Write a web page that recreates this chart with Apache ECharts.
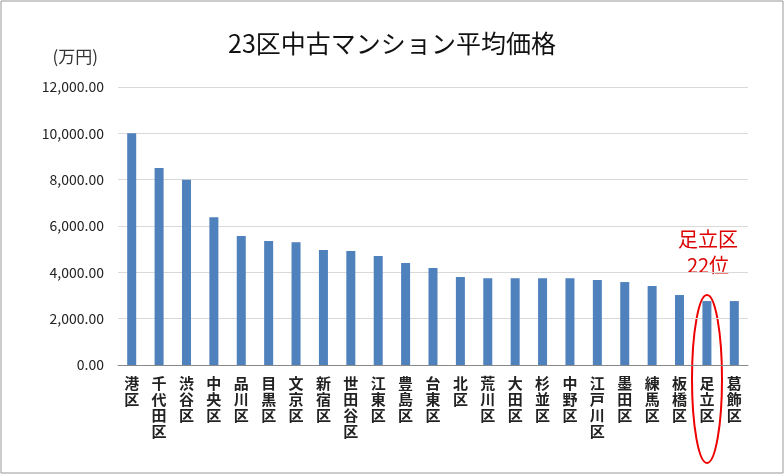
<!DOCTYPE html>
<html><head><meta charset="utf-8">
<script src="https://cdn.jsdelivr.net/npm/echarts@6/dist/echarts.min.js"></script>
<style>html,body{margin:0;padding:0;background:#fff}#c{width:784px;height:474px}</style>
</head><body><div id="c"></div>
<script>
const wards = ['港区','千代田区','渋谷区','中央区','品川区','目黒区','文京区','新宿区','世田谷区','江東区','豊島区','台東区','北区','荒川区','大田区','杉並区','中野区','江戸川区','墨田区','練馬区','板橋区','足立区','葛飾区'];
const prices = [10000,8500,8000,6380,5570,5350,5300,4960,4920,4700,4400,4190,3800,3750,3750,3750,3750,3670,3580,3410,3020,2760,2760];
const yTicks = [0,2000,4000,6000,8000,10000,12000];

const font = '"Noto Sans CJK JP", sans-serif';
const chart = echarts.init(document.getElementById('c'));
chart.setOption({
  animation: false,
  title: { text: '23区中古マンション平均価格', left: 'center', top: 26,
    textStyle: { fontFamily: font, fontSize: 25, fontWeight: 'normal', color: '#111' } },
  grid: { left: 118, right: 36, top: 87, bottom: 109 },
  xAxis: { type: 'category', data: wards,
    axisLine: { lineStyle: { color: '#888' } }, axisTick: { show: false },
    axisLabel: { interval: 0, fontFamily: font, fontSize: 15, fontWeight: 'bold', color: '#222', lineHeight: 16, margin: 10,
      formatter: v => v.split('').join('\n') } },
  yAxis: { type: 'value', min: 0, max: yTicks[yTicks.length - 1], interval: 2000,
    name: '(万円)', nameLocation: 'end', nameGap: 22,
    nameTextStyle: { fontFamily: font, fontSize: 17, color: '#333', align: 'right', padding: [0, 20, 0, 0] },
    axisLine: { show: false }, axisTick: { show: false },
    splitLine: { lineStyle: { color: '#d9d9d9' } },
    axisLabel: { fontFamily: font, fontSize: 14, color: '#222', margin: 14,
      formatter: v => v.toLocaleString('en-US', { minimumFractionDigits: 2, maximumFractionDigits: 2 }) } },
  series: [{ type: 'bar', data: prices, barWidth: 9, itemStyle: { color: '#4f81bd' } }],
  graphic: [
    { type: 'rect', shape: { x: 1, y: 1, width: 782, height: 472 }, style: { fill: 'none', stroke: '#999', lineWidth: 1 } },
    { type: 'ellipse', shape: { cx: 707, cy: 379, rx: 15, ry: 84 }, style: { fill: 'none', stroke: '#e00', lineWidth: 2 } },
    { type: 'text', left: 678, top: 226, style: { text: '足立区\n22位', fill: '#d00', font: '20px ' + font, lineHeight: 26, textAlign: 'center' } }
  ]
});
</script></body></html>
